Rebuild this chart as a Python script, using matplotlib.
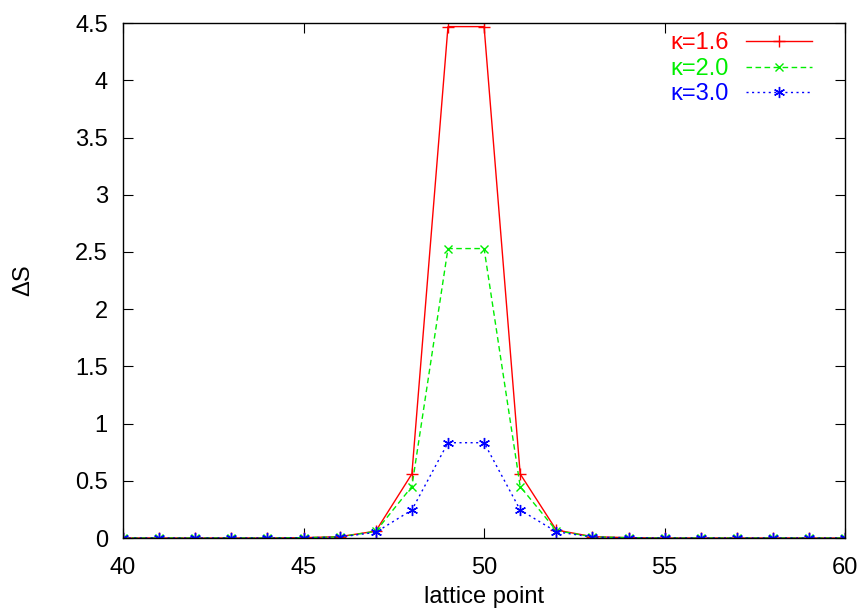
import matplotlib
matplotlib.use("Agg")
from matplotlib import pyplot as plt
import numpy as np

plt.rcParams['font.family'] = ['Liberation Sans', 'DejaVu Sans']

lattice = np.arange(40, 61)
# Delta S per lattice point
ds_16 = [0, 0, 0, 0, 0, 0.003, 0.012, 0.06, 0.56, 4.47, 4.47, 0.56, 0.07, 0.012, 0.003, 0, 0, 0, 0, 0, 0]
ds_20 = [0, 0, 0, 0, 0, 0.003, 0.01, 0.058, 0.45, 2.53, 2.53, 0.45, 0.065, 0.01, 0.003, 0, 0, 0, 0, 0, 0]
ds_30 = [0, 0, 0, 0, 0, 0.002, 0.008, 0.05, 0.245, 0.833, 0.833, 0.245, 0.055, 0.008, 0.002, 0, 0, 0, 0, 0, 0]
labels = ['κ=1.6', 'κ=2.0', 'κ=3.0']

fig = plt.figure(figsize=(8.58, 6.10), dpi=100)
ax = fig.add_axes([0.1434, 0.118, 0.8416, 0.844])

ax.plot(lattice, ds_16, color='red', lw=1, ls='-', marker='+', ms=9, mew=1, label=labels[0])
ax.plot(lattice, ds_20, color='#00ee00', lw=1, ls=(0, (4, 2.5)), marker='x', ms=6, mew=1, label=labels[1])
ax.plot(lattice, ds_30, color='blue', lw=1, ls=(0, (1.5, 2.5)), marker=(6, 2, 0), ms=8, mew=1, label=labels[2])

ax.set_xlim(40, 60)
ax.set_ylim(0, 4.5)
ax.set_xticks(np.arange(40, 61, 5))
ax.set_yticks(np.arange(0, 4.51, 0.5))
ax.set_yticklabels(['0', '0.5', '1', '1.5', '2', '2.5', '3', '3.5', '4', '4.5'])
ax.tick_params(direction='in', top=True, right=True, labelsize=17, length=7, pad=11)
ax.tick_params(axis='x', pad=14)
for s in ax.spines.values():
    s.set_linewidth(1)

ax.set_xlabel('lattice point', fontsize=17, labelpad=5)
ax.set_ylabel('ΔS', fontsize=17, labelpad=29)

leg = ax.legend(loc='upper right', bbox_to_anchor=(0.946, 0.947), bbox_transform=fig.transFigure,
                frameon=False, markerfirst=False, fontsize=17,
                labelcolor='linecolor', handlelength=2.8, borderaxespad=0, borderpad=0,
                labelspacing=0.15, handletextpad=0.7)

fig.savefig('out.png', dpi=100)
